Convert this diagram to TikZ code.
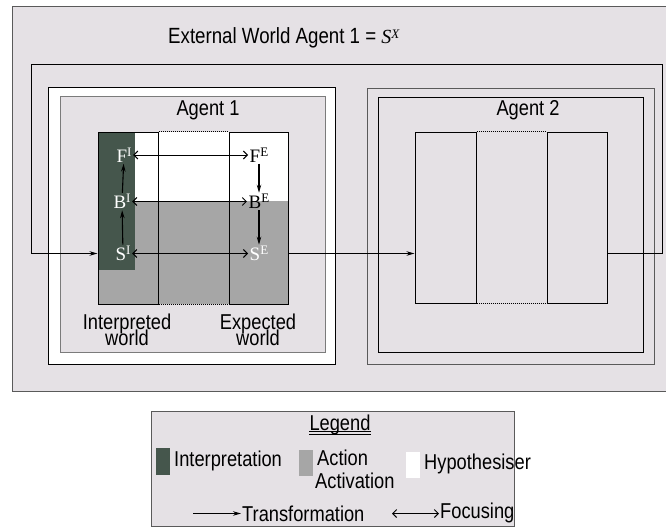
\documentclass[tikz,border=0pt]{standalone}
\usepackage{fontspec}
\setmainfont{Liberation Sans}[FakeStretch=0.85]
\newfontfamily\serifff{Liberation Serif}
\usetikzlibrary{arrows.meta}
\definecolor{bgl}{HTML}{E5E1E5}
\definecolor{dkg}{HTML}{45564C}
\definecolor{mgr}{HTML}{A6A6A6}
\definecolor{bord}{HTML}{5A5A5A}
\newcommand\supl[2]{#1\raisebox{5.5pt}{\fontsize{13}{13}\selectfont #2}}
\newcommand\tightlines{\lineskiplimit=-30pt\relax\lineskip=0pt\relax}
\tikzset{
  trans/.style={-{Stealth[length=8pt,width=4.5pt]}, line width=1.1pt},
  focus/.style={{Straight Barb[length=4pt,width=8pt]}-{Straight Barb[length=4pt,width=8pt]}, line width=1pt},
  lbl/.style={inner sep=1.5pt, font=\serifff\fontsize{19}{19}\selectfont},
  txt/.style={inner sep=0pt, font=\fontsize{21.5}{21.5}\selectfont},
  two/.style={inner sep=0pt, align=center, font=\fontsize{21.5}{16}\selectfont\tightlines},
  col/.style={draw=black, line width=1pt, inner sep=0pt, anchor=north west},
  frame/.style={line width=1pt},
  dots/.style={line width=1pt, dash pattern=on 1pt off 1pt},
}
\begin{document}
\begin{tikzpicture}[x=1pt,y=-1pt]
\useasboundingbox (0,0) rectangle (666,527);
\fill[white] (0,0) rectangle (666,527);
% outer world
\draw[frame, draw=bord, fill=bgl] (12.5,6.5) rectangle (672,391.5);
\node[txt, anchor=west, font=\fontsize{22}{22}\selectfont] (title) at (168,38) {External World Agent 1 = {\serifff\fontsize{20}{20}\selectfont\supl{\itshape S}{X}}};
% agent 1 boxes
\draw[frame, draw=black, fill=white] (48.5,87.5) rectangle (335.5,364.5);
\draw[frame, draw=bord!80, fill=bgl] (60.5,96.5) rectangle (325.5,352.5);
\node[txt] (ag1) at (208,110) {Agent 1};
% agent 2 boxes
\draw[frame, draw=bord, fill=bgl] (367.5,88.5) rectangle (654.5,364.5);
\draw[frame, draw=black] (378.5,97.5) rectangle (643.5,352.5);
\node[txt] (ag2) at (528,110) {Agent 2};
% agent 1 interior fills
\fill[white] (97.5,131.5) rectangle (287.5,201);
\fill[mgr] (97.5,201) rectangle (287.5,303.5);
\fill[dkg] (97.5,131.5) rectangle (135,270);
% columns
\node[col, minimum width=60pt, minimum height=172pt] (A1L) at (97.5,131.5) {};
\node[col, minimum width=59pt, minimum height=172pt] (A1R) at (228.5,131.5) {};
\draw[dots] (A1L.north east) -- (A1R.north west);
\draw[dots] (A1L.south east) -- (A1R.south west);
\node[col, minimum width=61pt, minimum height=171pt] (A2L) at (414.5,131.5) {};
\node[col, minimum width=60pt, minimum height=171pt] (A2R) at (546.5,131.5) {};
\draw[dots] (A2L.north east) -- (A2R.north west);
\draw[dots] (A2L.south east) -- (A2R.south west);
% labels
\node[lbl, text=white] (FI) at (124,155) {\supl{F}{I}};
\node[lbl, text=white] (BI) at (122,201.5) {\supl{B}{I}};
\node[lbl, text=white] (SI) at (123,253.5) {\supl{S}{I}};
\node[lbl, text=black] (FE) at (259,155) {\supl{F}{E}};
\node[lbl, text=black] (BE) at (259,201.5) {\supl{B}{E}};
\node[lbl, text=white] (SE) at (259,253.5) {\supl{S}{E}};
\draw[trans] (BI) -- (FI);
\draw[trans] (SI) -- (BI);
\draw[trans] (FE) -- (BE);
\draw[trans] (BE) -- (SE);
\draw[focus] (FI) -- (FE);
\draw[focus] (BI) -- (BE);
\draw[focus] (SI) -- (SE);
\node[two] (IW) at (127,330) {Interpreted\\world};
\node[two] (EW) at (258,330) {Expected\\world};
% connectors
\coordinate (loopTR) at (662.5,64.5);
\coordinate (loopTL) at (31.5,64.5);
\draw[trans] (A1R.east |- SE) -- (A2L.west |- SE);
\draw[trans] (A2R.east |- SE) -| (loopTR) -- (loopTL) |- (A1L.west |- SI);
% legend
\draw[frame, draw=bord, fill=bgl] (151.5,411.5) rectangle (514.5,526.5);
\node[txt] (leg) at (340,425) {Legend};
\draw[line width=0.9pt] ([yshift=1pt]leg.south west) -- ([yshift=1pt]leg.south east);
\draw[line width=0.9pt] ([yshift=3.5pt]leg.south west) -- ([yshift=3.5pt]leg.south east);
\fill[dkg] (156,448) rectangle (170,475);
\fill[mgr] (299,450) rectangle (313,476);
\fill[white] (406,452) rectangle (420,478);
\node[txt, anchor=west] (lint) at (174,461) {Interpretation};
\node[txt, anchor=west] (lact) at (317,458) {Action};
\node[txt, anchor=west] (lacv) at (315,481) {Activation};
\node[txt, anchor=west] (lhyp) at (424,464) {Hypothesiser};
\coordinate (tstart) at (193,513.5);
\coordinate (fstart) at (392,513.5);
\node[txt, anchor=west, inner sep=1pt] (ltr) at (241,514) {Transformation};
\node[txt, anchor=west, inner sep=1pt] (lfo) at (439,513) {Focusing};
\draw[trans] (tstart) -- (tstart -| ltr.west);
\draw[focus] (fstart) -- (fstart -| lfo.west);
\end{tikzpicture}
\end{document}
